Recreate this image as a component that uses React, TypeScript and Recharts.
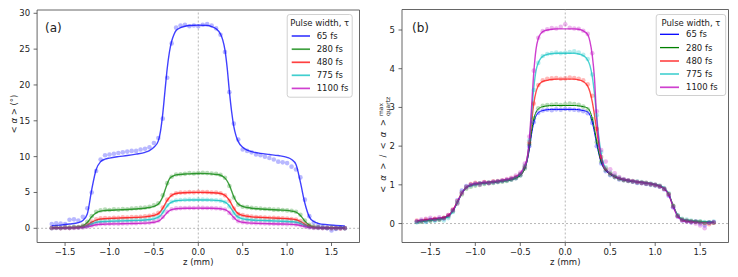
import React from "react"
import {
  ComposedChart,
  Line,
  Scatter,
  XAxis,
  YAxis,
  ReferenceLine,
  ReferenceArea,
} from "recharts"

const FONT = "'DejaVu Sans', sans-serif"

// z-Stützstellen der Fitkurven (mm)
const FIT_Z = [
  -1.65, -1.55, -1.45, -1.35, -1.3, -1.25, -1.2, -1.15, -1.1, -1.05, -1.0,
  -0.9, -0.8, -0.7, -0.6, -0.55, -0.5, -0.45, -0.425, -0.4, -0.375,
  -0.35, -0.325, -0.3, -0.275, -0.25, -0.2, -0.15, -0.1, 0,
  0.1, 0.15, 0.2, 0.25, 0.275, 0.3, 0.325, 0.35, 0.375, 0.4,
  0.425, 0.45, 0.5, 0.55, 0.6, 0.7, 0.8, 0.9, 1.0, 1.05,
  1.1, 1.15, 1.2, 1.25, 1.3, 1.35, 1.45, 1.55, 1.65,
]

// z-Positionen der Messpunkte (mm)
const SCATTER_Z = [
  -1.65, -1.6, -1.55, -1.5, -1.45, -1.4, -1.35, -1.3, -1.25, -1.2,
  -1.15, -1.1, -1.05, -1.0, -0.95, -0.9, -0.85, -0.8, -0.75, -0.7,
  -0.65, -0.6, -0.55, -0.5, -0.45, -0.4, -0.35, -0.3, -0.25, -0.2,
  -0.15, -0.1, -0.05, 0, 0.05, 0.1, 0.15, 0.2, 0.25, 0.3,
  0.35, 0.4, 0.45, 0.5, 0.55, 0.6, 0.65, 0.7, 0.75, 0.8,
  0.85, 0.9, 0.95, 1.0, 1.05, 1.1, 1.15, 1.2, 1.25, 1.3,
  1.35, 1.4, 1.45, 1.5, 1.55, 1.6, 1.65,
]

const PULSE_LABELS = ["65 fs", "280 fs", "480 fs", "775 fs", "1100 fs"]

const X_TICKS = [-1.5, -1, -0.5, 0, 0.5, 1, 1.5]
const Y_TICKS_A = [0, 5, 10, 15, 20, 25, 30]
const Y_TICKS_B = [0, 1, 2, 3, 4, 5]

// (a) <α> in Grad – Fits
const A_FIT_65 = [
  0.35, 0.45, 0.6, 0.8, 1.1, 2.0, 5.4, 8.2, 9.3, 9.65, 9.8,
  10.0, 10.15, 10.35, 10.6, 10.85, 11.3, 12.2, 13.6, 16.0, 19.2,
  22.3, 24.6, 26.1, 27.0, 27.6, 28.0, 28.2, 28.3, 28.35,
  28.3, 28.15, 27.85, 27.1, 26.3, 24.9, 22.4, 19.1, 16.3, 14.2,
  12.9, 12.1, 11.3, 10.9, 10.7, 10.45, 10.3, 10.15, 9.9, 9.6,
  8.9, 6.4, 3.5, 1.6, 0.95, 0.7, 0.5, 0.4, 0.32,
]
const A_FIT_280 = [
  0.05, 0.08, 0.12, 0.2, 0.35, 0.8, 1.6, 2.15, 2.4, 2.48, 2.52,
  2.57, 2.62, 2.7, 2.8, 2.9, 3.05, 3.4, 3.8, 4.4, 5.3,
  6.2, 6.9, 7.2, 7.35, 7.45, 7.52, 7.57, 7.6, 7.65,
  7.63, 7.58, 7.52, 7.4, 7.25, 7.0, 6.6, 6.0, 5.2, 4.4,
  3.8, 3.4, 3.05, 2.9, 2.8, 2.7, 2.62, 2.55, 2.5, 2.4,
  2.25, 1.8, 1.0, 0.45, 0.2, 0.12, 0.07, 0.05, 0.04,
]
const A_FIT_480 = [
  0.03, 0.05, 0.08, 0.12, 0.2, 0.45, 0.85, 1.15, 1.3, 1.35, 1.38,
  1.42, 1.47, 1.52, 1.6, 1.68, 1.8, 2.05, 2.35, 2.8, 3.35,
  3.9, 4.3, 4.6, 4.75, 4.85, 4.93, 4.97, 5.0, 5.02,
  5.0, 4.97, 4.93, 4.85, 4.75, 4.6, 4.3, 3.9, 3.35, 2.8,
  2.35, 2.05, 1.8, 1.68, 1.6, 1.52, 1.46, 1.4, 1.35, 1.3,
  1.2, 0.95, 0.55, 0.25, 0.12, 0.08, 0.05, 0.03, 0.02,
]
const A_FIT_775 = [
  0.02, 0.04, 0.06, 0.1, 0.16, 0.32, 0.6, 0.82, 0.92, 0.96, 0.98,
  1.02, 1.06, 1.1, 1.16, 1.22, 1.32, 1.55, 1.8, 2.2, 2.65,
  3.1, 3.45, 3.65, 3.77, 3.84, 3.9, 3.93, 3.95, 3.96,
  3.95, 3.93, 3.9, 3.84, 3.77, 3.65, 3.45, 3.1, 2.65, 2.2,
  1.8, 1.55, 1.32, 1.22, 1.16, 1.1, 1.05, 1.0, 0.96, 0.92,
  0.85, 0.68, 0.4, 0.18, 0.09, 0.06, 0.04, 0.02, 0.02,
]
const A_FIT_1100 = [
  0.02, 0.03, 0.05, 0.07, 0.1, 0.2, 0.36, 0.5, 0.56, 0.58, 0.6,
  0.62, 0.65, 0.68, 0.72, 0.76, 0.84, 1.0, 1.2, 1.5, 1.85,
  2.2, 2.45, 2.6, 2.68, 2.73, 2.77, 2.79, 2.8, 2.81,
  2.8, 2.79, 2.77, 2.73, 2.68, 2.6, 2.45, 2.2, 1.85, 1.5,
  1.2, 1.0, 0.84, 0.76, 0.72, 0.68, 0.64, 0.6, 0.58, 0.55,
  0.5, 0.4, 0.24, 0.11, 0.06, 0.04, 0.03, 0.02, 0.02,
]

// (a) Messpunkte
const A_PTS_65 = [
  0.6, 0.7, 0.65, 0.6, 1.2, 1.25, 1.1, 1.6, 2.8, 5.0,
  8.0, 9.6, 10.2, 10.3, 10.4, 10.5, 10.6, 10.7, 10.8, 10.8,
  11.0, 11.1, 11.3, 11.9, 12.6, 15.3, 21.0, 25.8, 28.0, 28.3,
  28.4, 28.2, 28.3, 28.2, 28.4, 28.5, 28.3, 27.9, 27.0, 24.6,
  19.0, 14.6, 12.4, 11.0, 10.8, 10.6, 10.3, 10.2, 10.0, 9.8,
  9.6, 9.3, 9.2, 9.1, 8.6, 8.2, 7.1, 4.0, 1.7, 0.8,
  0.4, 0.2, 0.0, -0.3, -0.1, 0.1, 0.0,
]
const A_PTS_280 = [
  0.05, 0.1, 0.05, 0.12, 0.1, 0.2, 0.18, 0.4, 0.9, 1.7,
  2.3, 2.5, 2.6, 2.55, 2.65, 2.6, 2.7, 2.65, 2.75, 2.8,
  2.85, 2.9, 3.0, 3.2, 3.5, 4.6, 6.3, 7.2, 7.5, 7.55,
  7.6, 7.7, 7.65, 7.7, 7.75, 7.7, 7.65, 7.6, 7.45, 7.05,
  5.9, 4.3, 3.3, 3.0, 2.95, 2.85, 2.8, 2.75, 2.7, 2.7,
  2.6, 2.6, 2.55, 2.5, 2.45, 2.3, 1.9, 1.1, 0.5, 0.25,
  0.15, 0.1, 0.05, 0.1, 0.0, 0.05, 0.0,
]
const A_PTS_480 = [
  0.05, 0.08, 0.03, 0.1, 0.06, 0.12, 0.15, 0.25, 0.5, 0.95,
  1.25, 1.38, 1.42, 1.4, 1.48, 1.45, 1.52, 1.5, 1.56, 1.58,
  1.62, 1.66, 1.75, 1.88, 2.15, 2.9, 4.0, 4.65, 4.9, 4.98,
  5.0, 5.05, 5.02, 5.08, 5.05, 5.05, 5.0, 4.98, 4.88, 4.6,
  3.85, 2.75, 2.0, 1.85, 1.7, 1.65, 1.58, 1.55, 1.5, 1.48,
  1.45, 1.42, 1.4, 1.36, 1.3, 1.22, 1.0, 0.6, 0.3, 0.15,
  0.1, 0.05, 0.08, 0.02, 0.05, -0.02, 0.03,
]
const A_PTS_775 = [
  0.02, 0.06, 0.03, 0.08, 0.05, 0.1, 0.12, 0.2, 0.38, 0.68,
  0.88, 0.97, 1.0, 1.02, 1.05, 1.06, 1.08, 1.1, 1.12, 1.15,
  1.18, 1.2, 1.27, 1.38, 1.62, 2.3, 3.2, 3.7, 3.88, 3.95,
  3.97, 4.0, 3.98, 4.02, 4.0, 3.98, 3.96, 3.92, 3.86, 3.66,
  3.05, 2.15, 1.58, 1.36, 1.25, 1.2, 1.15, 1.13, 1.1, 1.08,
  1.05, 1.04, 1.0, 0.98, 0.95, 0.88, 0.72, 0.45, 0.2, 0.1,
  0.06, 0.04, 0.05, 0.01, 0.03, 0.0, 0.02,
]
const A_PTS_1100 = [
  0.02, 0.04, 0.01, 0.05, 0.03, 0.06, 0.08, 0.12, 0.24, 0.4,
  0.53, 0.6, 0.62, 0.63, 0.66, 0.65, 0.68, 0.68, 0.7, 0.72,
  0.74, 0.76, 0.8, 0.9, 1.08, 1.6, 2.3, 2.65, 2.78, 2.82,
  2.84, 2.85, 2.83, 2.86, 2.85, 2.84, 2.82, 2.8, 2.75, 2.62,
  2.15, 1.45, 1.0, 0.86, 0.8, 0.75, 0.72, 0.7, 0.68, 0.66,
  0.64, 0.62, 0.6, 0.58, 0.56, 0.52, 0.42, 0.26, 0.12, 0.06,
  0.04, 0.02, 0.03, 0.0, 0.02, -0.01, 0.01,
]

// (b) normiert auf Quarz – Fits
const B_FIT_65 = [
  0.05, 0.08, 0.11, 0.15, 0.2, 0.33, 0.55, 0.78, 0.93, 0.99, 1.02,
  1.05, 1.07, 1.1, 1.14, 1.18, 1.25, 1.42, 1.6, 1.9, 2.3,
  2.6, 2.78, 2.86, 2.9, 2.92, 2.94, 2.95, 2.95, 2.95,
  2.95, 2.94, 2.92, 2.88, 2.8, 2.62, 2.35, 2.05, 1.78, 1.57,
  1.44, 1.36, 1.27, 1.2, 1.15, 1.1, 1.07, 1.04, 1.0, 0.96,
  0.9, 0.75, 0.45, 0.2, 0.1, 0.07, 0.05, 0.04, 0.03,
]
const B_FIT_280 = [
  0.04, 0.07, 0.1, 0.14, 0.19, 0.32, 0.54, 0.77, 0.92, 0.98, 1.01,
  1.04, 1.06, 1.09, 1.13, 1.17, 1.24, 1.42, 1.62, 1.95, 2.38,
  2.7, 2.88, 2.96, 3.0, 3.02, 3.04, 3.05, 3.05, 3.05,
  3.05, 3.04, 3.02, 2.98, 2.9, 2.72, 2.45, 2.12, 1.82, 1.6,
  1.46, 1.38, 1.28, 1.21, 1.16, 1.11, 1.08, 1.05, 1.01, 0.97,
  0.91, 0.76, 0.46, 0.21, 0.1, 0.07, 0.05, 0.04, 0.03,
]
const B_FIT_480 = [
  0.06, 0.09, 0.12, 0.15, 0.2, 0.34, 0.56, 0.79, 0.94, 1.0, 1.03,
  1.06, 1.08, 1.11, 1.15, 1.19, 1.27, 1.45, 1.65, 2.05, 2.6,
  3.1, 3.4, 3.56, 3.63, 3.67, 3.7, 3.72, 3.73, 3.73,
  3.73, 3.71, 3.67, 3.55, 3.4, 3.15, 2.8, 2.4, 2.0, 1.7,
  1.5, 1.4, 1.29, 1.22, 1.17, 1.12, 1.08, 1.05, 1.01, 0.97,
  0.91, 0.76, 0.46, 0.21, 0.11, 0.08, 0.06, 0.04, 0.03,
]
const B_FIT_775 = [
  0.04, 0.07, 0.1, 0.13, 0.18, 0.31, 0.54, 0.78, 0.93, 0.99, 1.02,
  1.05, 1.07, 1.1, 1.14, 1.19, 1.27, 1.46, 1.65, 2.1, 2.8,
  3.5, 3.95, 4.15, 4.26, 4.32, 4.37, 4.39, 4.4, 4.4,
  4.4, 4.38, 4.34, 4.22, 4.08, 3.8, 3.35, 2.75, 2.2, 1.8,
  1.55, 1.42, 1.3, 1.23, 1.18, 1.12, 1.09, 1.06, 1.02, 0.98,
  0.92, 0.77, 0.46, 0.22, 0.12, 0.09, 0.07, 0.05, 0.04,
]
const B_FIT_1100 = [
  0.07, 0.1, 0.13, 0.16, 0.21, 0.34, 0.55, 0.78, 0.93, 1.0, 1.03,
  1.06, 1.08, 1.12, 1.17, 1.22, 1.3, 1.5, 1.68, 2.15, 3.0,
  3.9, 4.5, 4.78, 4.9, 4.96, 5.0, 5.02, 5.03, 5.03,
  5.03, 5.02, 4.98, 4.88, 4.7, 4.35, 3.75, 2.7, 2.1, 1.7,
  1.5, 1.4, 1.3, 1.22, 1.17, 1.12, 1.08, 1.05, 1.0, 0.96,
  0.9, 0.74, 0.43, 0.18, 0.08, 0.05, 0.03, 0.02, 0.03,
]

// (b) Messpunkte
const B_PTS_65 = [
  0.05, 0.07, 0.06, 0.1, 0.09, 0.12, 0.13, 0.2, 0.35, 0.6,
  0.85, 0.97, 1.0, 1.03, 1.04, 1.06, 1.05, 1.08, 1.08, 1.1,
  1.12, 1.14, 1.17, 1.25, 1.45, 2.0, 2.62, 2.86, 2.92, 2.94,
  2.93, 2.95, 2.94, 2.96, 2.95, 2.94, 2.93, 2.9, 2.85, 2.6,
  2.0, 1.55, 1.35, 1.25, 1.2, 1.14, 1.12, 1.1, 1.08, 1.05,
  1.04, 1.02, 1.0, 0.98, 0.95, 0.88, 0.72, 0.42, 0.18, 0.08,
  0.06, 0.03, 0.05, 0.0, -0.05, 0.02, 0.03,
]
const B_PTS_280 = [
  0.04, 0.05, 0.08, 0.07, 0.1, 0.1, 0.14, 0.18, 0.32, 0.52,
  0.75, 0.9, 0.95, 0.98, 1.0, 1.02, 1.04, 1.05, 1.07, 1.08,
  1.1, 1.13, 1.17, 1.24, 1.42, 2.05, 2.72, 2.98, 3.04, 3.06,
  3.07, 3.08, 3.06, 3.08, 3.1, 3.09, 3.07, 3.02, 2.95, 2.7,
  2.1, 1.6, 1.38, 1.27, 1.2, 1.15, 1.12, 1.1, 1.08, 1.06,
  1.05, 1.03, 1.01, 0.99, 0.96, 0.9, 0.76, 0.45, 0.2, 0.1,
  0.07, 0.06, 0.04, 0.05, 0.02, 0.03, 0.02,
]
const B_PTS_480 = [
  0.08, 0.06, 0.1, 0.09, 0.12, 0.11, 0.15, 0.22, 0.36, 0.58,
  0.8, 0.95, 1.02, 1.05, 1.04, 1.07, 1.06, 1.09, 1.1, 1.11,
  1.13, 1.16, 1.2, 1.28, 1.48, 2.1, 3.1, 3.58, 3.7, 3.74,
  3.75, 3.76, 3.74, 3.75, 3.77, 3.76, 3.74, 3.7, 3.6, 3.3,
  2.45, 1.72, 1.42, 1.3, 1.22, 1.17, 1.13, 1.11, 1.1, 1.08,
  1.06, 1.05, 1.02, 1.0, 0.97, 0.9, 0.76, 0.46, 0.2, 0.1,
  0.08, 0.06, 0.05, 0.03, 0.0, -0.02, 0.02,
]
const B_PTS_775 = [
  0.03, 0.05, 0.04, 0.08, 0.07, 0.1, 0.08, 0.14, 0.3, 0.55,
  0.8, 0.94, 0.99, 1.01, 1.03, 1.04, 1.06, 1.06, 1.09, 1.1,
  1.12, 1.15, 1.19, 1.28, 1.5, 2.15, 3.45, 4.15, 4.33, 4.38,
  4.4, 4.42, 4.4, 4.41, 4.43, 4.45, 4.42, 4.36, 4.25, 3.85,
  2.8, 1.85, 1.45, 1.32, 1.24, 1.18, 1.14, 1.12, 1.1, 1.09,
  1.07, 1.05, 1.03, 1.01, 0.98, 0.92, 0.78, 0.46, 0.22, 0.12,
  0.1, 0.08, 0.06, 0.05, 0.04, 0.03, 0.05,
]
const B_PTS_1100 = [
  0.06, 0.1, 0.12, 0.15, 0.12, 0.16, 0.14, 0.22, 0.34, 0.52,
  0.78, 0.93, 1.0, 1.02, 1.0, 1.06, 1.04, 1.07, 1.09, 1.12,
  1.15, 1.18, 1.24, 1.32, 1.55, 2.25, 3.95, 4.8, 4.97, 5.02,
  5.05, 5.04, 5.08, 5.15, 5.06, 5.04, 5.03, 4.98, 4.9, 4.4,
  2.9, 1.9, 1.6, 1.4, 1.3, 1.2, 1.15, 1.12, 1.09, 1.07,
  1.05, 1.03, 1.02, 1.0, 0.96, 0.9, 0.74, 0.42, 0.18, 0.08,
  0.05, 0.03, 0.0, -0.05, -0.12, 0.02, 0.04,
]

const COLORS = ["#0000ff", "#008000", "#ff0000", "#00bfbf", "#bf00bf"]

// Linienstil je Panel: (a) alles halbtransparent, (b) 65/280 fs dünn & satt
const A_LINE = [
  { width: 1.4, opacity: 0.75 },
  { width: 1.4, opacity: 0.75 },
  { width: 1.4, opacity: 0.75 },
  { width: 1.4, opacity: 0.75 },
  { width: 1.4, opacity: 0.75 },
]
const B_LINE = [
  { width: 1, opacity: 1 },
  { width: 1, opacity: 1 },
  { width: 1.4, opacity: 0.7 },
  { width: 1.4, opacity: 0.7 },
  { width: 1.4, opacity: 0.75 },
]

const X_DOMAIN = [-1.815, 1.815]

const toPoints = (xs: number[], ys: number[]) =>
  xs.map((z, i) => ({ z, v: ys[i] }))

const fmtX = (v: number) =>
  v === 0 ? "0.0" : (v < 0 ? "\u2212" : "") + Math.abs(v).toFixed(1)

const tickStyle = { fontSize: 8.5, fill: "#222", fontFamily: FONT }

interface PanelProps {
  left: number
  yAxisWidth: number
  marginTop: number
  marginRight: number
  yDomain: number[]
  yTicks: number[]
  fits: number[][]
  points: number[][]
  lineStyle: { width: number; opacity: number }[]
}

function Panel({
  left,
  yAxisWidth,
  marginTop,
  marginRight,
  yDomain,
  yTicks,
  fits,
  points,
  lineStyle,
}: PanelProps) {
  return (
    <div style={{ position: "absolute", left, top: 0 }}>
      <ComposedChart
        width={370}
        height={277}
        margin={{ top: marginTop, right: marginRight, bottom: 0, left: 0 }}
      >
        <XAxis
          type="number"
          dataKey="z"
          domain={X_DOMAIN}
          ticks={X_TICKS}
          tickFormatter={fmtX}
          allowDataOverflow
          height={34.5}
          axisLine={false}
          tickSize={3.5}
          tickMargin={3}
          tick={tickStyle}
          tickLine={{ stroke: "#444", strokeWidth: 0.8 }}
        />
        <YAxis
          type="number"
          dataKey="v"
          domain={yDomain}
          ticks={yTicks}
          allowDataOverflow
          width={yAxisWidth}
          axisLine={false}
          tickSize={3.5}
          tickMargin={3.5}
          tick={tickStyle}
          tickLine={{ stroke: "#444", strokeWidth: 0.8 }}
        />
        <ReferenceLine y={0} stroke="#999" strokeWidth={0.7} strokeDasharray="2 2" />
        <ReferenceLine x={0} stroke="#999" strokeWidth={0.7} strokeDasharray="2 2" />
        {points.map((ys, i) => (
          <Scatter
            key={`pts-${i}`}
            data={toPoints(SCATTER_Z, ys)}
            dataKey="v"
            fill={COLORS[i]}
            isAnimationActive={false}
            shape={(p: any) => (
              <circle cx={p.cx} cy={p.cy} r={2.3} fill={COLORS[i]} fillOpacity={0.28} />
            )}
          />
        ))}
        {fits.map((ys, i) => (
          <Line
            key={`fit-${i}`}
            data={toPoints(FIT_Z, ys)}
            dataKey="v"
            type="monotone"
            dot={false}
            stroke={COLORS[i]}
            strokeWidth={lineStyle[i].width}
            strokeOpacity={lineStyle[i].opacity}
            isAnimationActive={false}
          />
        ))}
        <ReferenceArea
          x1={X_DOMAIN[0]}
          x2={X_DOMAIN[1]}
          y1={yDomain[0]}
          y2={yDomain[1]}
          fill="none"
          stroke="#555"
          strokeWidth={0.9}
          ifOverflow="visible"
        />
      </ComposedChart>
    </div>
  )
}

interface LegendProps {
  left: number
  top: number
  width: number
  height: number
  titleY: number
  rowY: number[]
  handleX: number
  handleW: number
  textX: number
  lineStyle: { width: number; opacity: number }[]
}

// Legende wie bei matplotlib: halbtransparente Box mit Titel
function LegendBox(p: LegendProps) {
  return (
    <g fontFamily={FONT} fontSize={8.5} fill="#222">
      <rect
        x={p.left + 0.5}
        y={p.top + 0.5}
        width={p.width}
        height={p.height}
        rx={2.5}
        fill="#fff"
        fillOpacity={0.85}
        stroke="#d0d0d0"
        strokeWidth={1}
      />
      <text x={p.left + p.width / 2 + 0.5} y={p.titleY + 3} textAnchor="middle">
        Pulse width, τ
      </text>
      {PULSE_LABELS.map((label, i) => (
        <g key={label}>
          <line
            x1={p.handleX}
            x2={p.handleX + p.handleW}
            y1={p.rowY[i]}
            y2={p.rowY[i]}
            stroke={COLORS[i]}
            strokeWidth={p.lineStyle[i].width + 0.3}
            strokeOpacity={p.lineStyle[i].opacity}
          />
          <text x={p.textX} y={p.rowY[i] + 3}>
            {label}
          </text>
        </g>
      ))}
    </g>
  )
}

export default function App() {
  return (
    <div
      style={{
        position: "absolute",
        left: 0,
        top: 0,
        width: 738,
        height: 277,
        background: "#fff",
        overflow: "hidden",
      }}
    >
      <Panel
        left={0}
        yAxisWidth={37.1}
        marginTop={10}
        marginRight={10.5}
        yDomain={[-1.98, 30.46]}
        yTicks={Y_TICKS_A}
        fits={[A_FIT_65, A_FIT_280, A_FIT_480, A_FIT_775, A_FIT_1100]}
        points={[A_PTS_65, A_PTS_280, A_PTS_480, A_PTS_775, A_PTS_1100]}
        lineStyle={A_LINE}
      />
      <Panel
        left={368}
        yAxisWidth={34}
        marginTop={9.5}
        marginRight={9.5}
        yDomain={[-0.49, 5.53]}
        yTicks={Y_TICKS_B}
        fits={[B_FIT_65, B_FIT_280, B_FIT_480, B_FIT_775, B_FIT_1100]}
        points={[B_PTS_65, B_PTS_280, B_PTS_480, B_PTS_775, B_PTS_1100]}
        lineStyle={B_LINE}
      />

      <svg
        width={738}
        height={277}
        style={{ position: "absolute", left: 0, top: 0, pointerEvents: "none" }}
        fontFamily={FONT}
        fill="#222"
      >
        <text x={45} y={31.5} fontSize={12}>(a)</text>
        <text x={412} y={31.5} fontSize={12}>(b)</text>
        <text x={198.3} y={264.5} fontSize={8.5} textAnchor="middle">z (mm)</text>
        <text x={565.3} y={264.5} fontSize={8.5} textAnchor="middle">z (mm)</text>
        <text
          transform="translate(16.5, 114) rotate(-90)"
          fontSize={8.5}
          textAnchor="middle"
        >
          {"< "}
          <tspan fontStyle="italic">α</tspan>
          {" > (°)"}
        </text>
        <g transform="translate(386, 141) rotate(-90)">
          <text x={-52} y={0} fontSize={8.5} style={{ wordSpacing: 2.5 }}>
            {"< "}
            <tspan fontStyle="italic">α</tspan>
            {" > / < "}
            <tspan fontStyle="italic">α</tspan>
            {" >"}
          </text>
          <text x={25} y={-3.5} fontSize={6}>max</text>
          <text x={25} y={3.5} fontSize={6}>quartz</text>
        </g>

        <LegendBox
          left={286.7}
          top={14}
          width={65}
          height={82.7}
          titleY={23.3}
          rowY={[36, 49.2, 62.3, 75.3, 88.4]}
          handleX={291.7}
          handleW={18.3}
          textX={316.7}
          lineStyle={A_LINE}
        />
        <LegendBox
          left={655.7}
          top={14}
          width={69.5}
          height={81}
          titleY={22.7}
          rowY={[34.3, 47.6, 61, 74, 87.3]}
          handleX={660}
          handleW={19}
          textX={686}
          lineStyle={B_LINE}
        />
      </svg>
    </div>
  )
}
